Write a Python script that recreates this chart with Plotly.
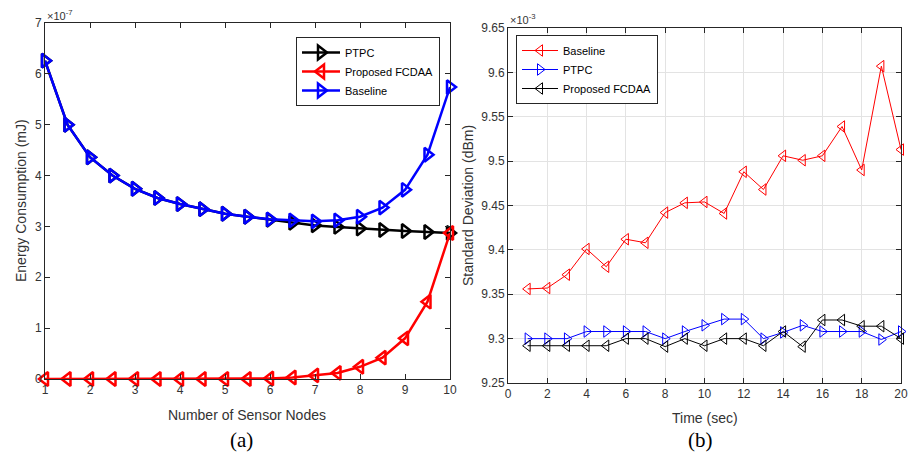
import plotly.graph_objects as go

# ---- Data: chart (a) ----
nodes = [1, 1.5, 2, 2.5, 3, 3.5, 4, 4.5, 5, 5.5, 6, 6.5, 7, 7.5, 8, 8.5, 9, 9.5, 10]
# values in units of 1e-7 mJ
baseline_a = [6.26, 5.00, 4.36, 4.00, 3.74, 3.56, 3.44, 3.34, 3.25, 3.19, 3.14, 3.12, 3.10, 3.12, 3.19, 3.37, 3.72, 4.41, 5.74]
ptpc_a = [6.26, 5.00, 4.36, 4.00, 3.74, 3.56, 3.44, 3.34, 3.25, 3.19, 3.13, 3.07, 3.02, 2.99, 2.96, 2.93, 2.91, 2.89, 2.87]
fcdaa_a = [0.0, 0.0, 0.0, 0.0, 0.0, 0.0, 0.0, 0.0, 0.0, 0.0, 0.01, 0.03, 0.07, 0.12, 0.24, 0.42, 0.80, 1.52, 2.87]
ticks_a_x = [1, 2, 3, 4, 5, 6, 7, 8, 9, 10]
ticks_a_y = [0, 1, 2, 3, 4, 5, 6, 7]

# ---- Data: chart (b) ----
time_s = list(range(1, 21))
# values in units of 1e-3 dBm
baseline_b = [9.356, 9.357, 9.372, 9.401, 9.381, 9.412, 9.408, 9.442, 9.453, 9.454,
              9.441, 9.488, 9.468, 9.506, 9.501, 9.506, 9.539, 9.490, 9.607, 9.513]
ptpc_b = [9.300, 9.300, 9.300, 9.308, 9.308, 9.308, 9.308, 9.300, 9.308, 9.315,
          9.322, 9.322, 9.300, 9.307, 9.315, 9.308, 9.308, 9.308, 9.299, 9.308]
fcdaa_b = [9.292, 9.292, 9.292, 9.292, 9.292, 9.300, 9.300, 9.291, 9.300, 9.292,
           9.300, 9.300, 9.292, 9.308, 9.291, 9.321, 9.321, 9.314, 9.314, 9.300]
ticks_b_x = [0, 2, 4, 6, 8, 10, 12, 14, 16, 18, 20]
ticks_b_y = [9.25, 9.30, 9.35, 9.40, 9.45, 9.50, 9.55, 9.60, 9.65]
ticks_b_y_text = ["9.25", "9.3", "9.35", "9.4", "9.45", "9.5", "9.55", "9.6", "9.65"]

FONT = "Liberation Sans, Arial, sans-serif"
AX = "#262626"
TXT = "#333333"
W, H = 913, 461

def px(x):
    return x / W

def py(y):
    return 1 - y / H

fig = go.Figure()

# chart (a)
fig.add_trace(go.Scatter(x=nodes, y=ptpc_a, name="PTPC", mode="lines+markers",
                         line=dict(color="black", width=2.5),
                         marker=dict(symbol="triangle-right-open", size=12, color="black", line=dict(width=2.5)),
                         cliponaxis=False, xaxis="x", yaxis="y", legend="legend"))
fig.add_trace(go.Scatter(x=nodes, y=fcdaa_a, name="Proposed FCDAA", mode="lines+markers",
                         line=dict(color="red", width=2.5),
                         marker=dict(symbol="triangle-left-open", size=12, color="red", line=dict(width=2.5)),
                         cliponaxis=False, xaxis="x", yaxis="y", legend="legend"))
fig.add_trace(go.Scatter(x=nodes, y=baseline_a, name="Baseline", mode="lines+markers",
                         line=dict(color="blue", width=2.5),
                         marker=dict(symbol="triangle-right-open", size=12, color="blue", line=dict(width=2.5)),
                         cliponaxis=False, xaxis="x", yaxis="y", legend="legend"))

# chart (b)
fig.add_trace(go.Scatter(x=time_s, y=baseline_b, name="Baseline", mode="lines+markers",
                         line=dict(color="red", width=1),
                         marker=dict(symbol="triangle-left-open", size=10, color="red", line=dict(width=1)),
                         cliponaxis=False, xaxis="x2", yaxis="y2", legend="legend2"))
fig.add_trace(go.Scatter(x=time_s, y=ptpc_b, name="PTPC", mode="lines+markers",
                         line=dict(color="blue", width=1),
                         marker=dict(symbol="triangle-right-open", size=10, color="blue", line=dict(width=1)),
                         cliponaxis=False, xaxis="x2", yaxis="y2", legend="legend2"))
fig.add_trace(go.Scatter(x=time_s, y=fcdaa_b, name="Proposed FCDAA", mode="lines+markers",
                         line=dict(color="black", width=1),
                         marker=dict(symbol="triangle-left-open", size=10, color="black", line=dict(width=1)),
                         cliponaxis=False, xaxis="x2", yaxis="y2", legend="legend2"))

axis_common = dict(showline=True, linecolor=AX, linewidth=1, mirror="allticks", ticks="inside",
                   ticklen=5, tickcolor=AX, tickfont=dict(family=FONT, size=12, color=TXT),
                   zeroline=False, automargin=False)

def ann(text, x, y, size=13.5, angle=0, family=FONT, color=TXT, xanchor="center", yanchor="middle"):
    return dict(text=text, x=px(x), y=py(y), xref="paper", yref="paper",
                xanchor=xanchor, yanchor=yanchor, showarrow=False, textangle=angle,
                font=dict(family=family, size=size, color=color))

fig.update_layout(
    width=W, height=H,
    margin=dict(l=0, r=0, t=0, b=0, autoexpand=False),
    paper_bgcolor="white", plot_bgcolor="white",
    font=dict(family=FONT, color=AX),
    xaxis=dict(domain=[px(45), px(450)], range=[1, 10], tickvals=ticks_a_x, showgrid=False,
               anchor="y", **axis_common),
    yaxis=dict(domain=[py(379), py(23)], range=[0, 7], tickvals=ticks_a_y, showgrid=False,
               anchor="x", **axis_common),
    xaxis2=dict(domain=[px(508), px(901)], range=[0, 20], tickvals=ticks_b_x, showgrid=True,
                gridcolor="#e3e3e3", gridwidth=1, anchor="y2", **axis_common),
    yaxis2=dict(domain=[py(383), py(28)], range=[9.25, 9.65], tickvals=ticks_b_y,
                ticktext=ticks_b_y_text, showgrid=True, gridcolor="#e3e3e3", gridwidth=1,
                anchor="x2", **axis_common),
    legend=dict(x=px(296), y=py(37), xanchor="left", yanchor="top",
                bgcolor="white", bordercolor=AX, borderwidth=1,
                font=dict(family=FONT, size=11, color="black"), tracegroupgap=0,
                itemwidth=38),
    legend2=dict(x=px(516), y=py(35), xanchor="left", yanchor="top",
                 bgcolor="white", bordercolor=AX, borderwidth=1,
                 font=dict(family=FONT, size=11, color="black"), tracegroupgap=0,
                 itemwidth=36),
    annotations=[
        ann("Number of Sensor Nodes", 247, 415, size=14),
        ann("Energy Consumption (mJ)", 21, 201, size=14, angle=-90),
        ann("Time (sec)", 705, 418, size=14),
        ann("Standard Deviation (dBm)", 468, 205, size=14, angle=-90),
        ann("\u00d710<sup>-7</sup>", 45, 6, size=11, xanchor="left", yanchor="top"),
        ann("\u00d710<sup>-3</sup>", 508, 10, size=11, xanchor="left", yanchor="top"),
        ann("(a)", 241, 440, size=21, family="Liberation Serif, Times New Roman, serif", color="black"),
        ann("(b)", 700, 440, size=21, family="Liberation Serif, Times New Roman, serif", color="black"),
    ],
)

# remove the page's default 8px body margin so the figure fills the window exactly
fig.write_html("out.html", config={"displayModeBar": False},
               post_script="document.body.style.margin='0';document.body.style.overflow='hidden';")
